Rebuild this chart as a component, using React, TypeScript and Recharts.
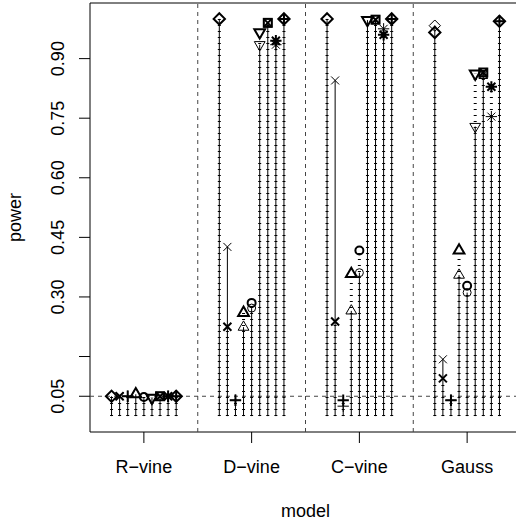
import React from 'react';
import {
  ComposedChart, XAxis, YAxis, Line, Scatter, ReferenceLine, ReferenceArea,
} from 'recharts';

// ---- data ----
const groups = ['R\u2212vine', 'D\u2212vine', 'C\u2212vine', 'Gauss'];
const groupPos = [1, 2, 3, 4];
const symbols = ['diamond', 'cross', 'plus', 'triangle', 'circle', 'triangleDown', 'squareX', 'asterisk', 'diamondPlus'];
const offsetStep = 0.075;

// thin (first) and bold (second) power values per symbol, per model
const thinDiamond = [0.05, 1.0, 1.0, 0.983];
const boldDiamond = [0.05, 1.0, 1.0, 0.966];
const thinCross = [0.05, 0.426, 0.845, 0.143];
const boldCross = [0.05, 0.225, 0.238, 0.095];
const thinPlus = [0.05, 0.04, 0.025, 0.04];
const boldPlus = [0.05, 0.04, 0.04, 0.04];
const thinTriangle = [0.055, 0.224, 0.265, 0.355];
const boldTriangle = [0.055, 0.26, 0.358, 0.417];
const thinCircle = [0.048, 0.272, 0.361, 0.311];
const boldCircle = [0.048, 0.285, 0.417, 0.328];
const thinTriDown = [0.046, 0.935, 0.997, 0.729];
const boldTriDown = [0.046, 0.966, 0.997, 0.862];
const thinSquare = [0.05, 0.99, 0.998, 0.86];
const boldSquare = [0.05, 0.99, 0.998, 0.865];
const thinAsterisk = [0.05, 0.935, 0.975, 0.754];
const boldAsterisk = [0.05, 0.945, 0.96, 0.829];
const thinDiamondPlus = [0.05, 1.0, 1.0, 0.994];
const boldDiamondPlus = [0.05, 1.0, 1.0, 0.994];

const thinValues = [thinDiamond, thinCross, thinPlus, thinTriangle, thinCircle, thinTriDown, thinSquare, thinAsterisk, thinDiamondPlus];
const boldValues = [boldDiamond, boldCross, boldPlus, boldTriangle, boldCircle, boldTriDown, boldSquare, boldAsterisk, boldDiamondPlus];

const yTicks = [0.05, 0.15, 0.3, 0.45, 0.6, 0.75, 0.9];
const yTickLabels = ['0.05', '', '0.30', '0.45', '0.60', '0.75', '0.90'];
const separators = [1.5, 2.5, 3.5];

const FONT = '"Liberation Sans", Arial, Helvetica, sans-serif';
const FS = 18;

// ---- helpers ----
const xOf = (gi: number, si: number) => groupPos[gi] + (si - 4) * offsetStep;

const stemData = (vals: number[], si: number) =>
  vals.flatMap((v, gi) => [
    { x: xOf(gi, si), y: 0 },
    { x: xOf(gi, si), y: v },
    { x: xOf(gi, si), y: null },
  ]);

const pointData = (vals: number[], si: number) =>
  vals.map((v, gi) => ({ x: xOf(gi, si), y: v }));

const RAD = 4;
function Marker({ cx, cy, kind, bold }: { cx: number; cy: number; kind: string; bold: boolean }) {
  if (cx == null || cy == null) return null;
  const sw = bold ? 2 : 1;
  const c = { fill: 'none', stroke: '#000', strokeWidth: sw };
  const d = RAD * Math.SQRT2;
  const r = RAD;
  const tr = 6.22, tx = 5.39, ty = 3.11;
  switch (kind) {
    case 'circle':
      return <circle cx={cx} cy={cy} r={r} {...c} />;
    case 'triangle':
      return <polygon points={`${cx},${cy - tr} ${cx + tx},${cy + ty} ${cx - tx},${cy + ty}`} {...c} />;
    case 'triangleDown':
      return <polygon points={`${cx},${cy + tr} ${cx + tx},${cy - ty} ${cx - tx},${cy - ty}`} {...c} />;
    case 'plus':
      return <path d={`M${cx - d},${cy}H${cx + d}M${cx},${cy - d}V${cy + d}`} {...c} />;
    case 'cross':
      return <path d={`M${cx - r},${cy - r}L${cx + r},${cy + r}M${cx - r},${cy + r}L${cx + r},${cy - r}`} {...c} />;
    case 'diamond':
      return <polygon points={`${cx},${cy - d} ${cx + d},${cy} ${cx},${cy + d} ${cx - d},${cy}`} {...c} />;
    case 'squareX':
      return (
        <g>
          <rect x={cx - r} y={cy - r} width={2 * r} height={2 * r} {...c} />
          <path d={`M${cx - r},${cy - r}L${cx + r},${cy + r}M${cx - r},${cy + r}L${cx + r},${cy - r}`} {...c} />
        </g>
      );
    case 'asterisk':
      return (
        <path
          d={`M${cx - r},${cy - r}L${cx + r},${cy + r}M${cx - r},${cy + r}L${cx + r},${cy - r}M${cx - d},${cy}H${cx + d}M${cx},${cy - d}V${cy + d}`}
          {...c}
        />
      );
    case 'diamondPlus':
      return (
        <g>
          <polygon points={`${cx},${cy - d} ${cx + d},${cy} ${cx},${cy + d} ${cx - d},${cy}`} {...c} />
          <path d={`M${cx - d},${cy}H${cx + d}M${cx},${cy - d}V${cy + d}`} {...c} />
        </g>
      );
    default:
      return null;
  }
}

const XTick = (props: any) => {
  const { x, payload } = props;
  const idx = groupPos.indexOf(payload.value);
  return (
    <text x={x} y={473} textAnchor="middle" fontFamily={FONT} fontSize={FS} fill="#000">
      {groups[idx]}
    </text>
  );
};

const YTick = (props: any) => {
  const { y, payload } = props;
  const idx = yTicks.indexOf(payload.value);
  const label = idx >= 0 ? yTickLabels[idx] : '';
  if (!label) return null;
  const bx = 64;
  return (
    <text x={bx} y={y} transform={`rotate(-90, ${bx}, ${y})`} textAnchor="middle" fontFamily={FONT} fontSize={FS} fill="#000">
      {label}
    </text>
  );
};

export default function App() {
  return (
    <div style={{ position: 'absolute', left: 0, top: 0, width: 516, height: 525, overflow: 'hidden', background: '#fff' }}>
      <ComposedChart width={531} height={525} margin={{ top: 3, right: 10, bottom: 0, left: 0 }}>
        <XAxis
          type="number"
          dataKey="x"
          domain={[0.5, 4.5]}
          ticks={groupPos}
          allowDataOverflow
          height={93}
          tickSize={11}
          axisLine={false}
          tickLine={{ stroke: '#000' }}
          tick={<XTick />}
          interval={0}
        />
        <YAxis
          type="number"
          dataKey="y"
          domain={[-0.04, 1.04]}
          ticks={yTicks}
          allowDataOverflow
          width={90}
          tickSize={11}
          axisLine={false}
          tickLine={{ stroke: '#000' }}
          tick={<YTick />}
          interval={0}
        />
        <ReferenceArea x1={0.5} x2={4.5} y1={-0.04} y2={1.04} fill="none" fillOpacity={0} stroke="#000" strokeWidth={1} />
        {separators.map((s) => (
          <ReferenceLine key={'sep' + s} x={s} stroke="#444" strokeDasharray="4 4" />
        ))}
        <ReferenceLine y={0.05} stroke="#444" strokeDasharray="4 4" />
        {symbols.map((k, si) => (
          <Line
            key={'ts' + k}
            data={stemData(thinValues[si], si)}
            dataKey="y"
            stroke="#000"
            strokeWidth={1}
            dot={false}
            activeDot={false}
            connectNulls={false}
            isAnimationActive={false}
          />
        ))}
        {symbols.map((k, si) => (
          <Line
            key={'bs' + k}
            data={stemData(boldValues[si], si)}
            dataKey="y"
            stroke="#000"
            strokeWidth={3}
            strokeDasharray="1 5"
            dot={false}
            activeDot={false}
            connectNulls={false}
            isAnimationActive={false}
          />
        ))}
        {symbols.map((k, si) => (
          <Scatter
            key={'tp' + k}
            data={pointData(thinValues[si], si)}
            isAnimationActive={false}
            shape={(p: any) => <Marker cx={p.cx} cy={p.cy} kind={k} bold={false} />}
          />
        ))}
        {symbols.map((k, si) => (
          <Scatter
            key={'bp' + k}
            data={pointData(boldValues[si], si)}
            isAnimationActive={false}
            shape={(p: any) => <Marker cx={p.cx} cy={p.cy} kind={k} bold={true} />}
          />
        ))}
      </ComposedChart>
      <svg width={516} height={525} style={{ position: 'absolute', left: 0, top: 0, pointerEvents: 'none' }}>
        <text x={21} y={217.5} transform="rotate(-90, 21, 217.5)" textAnchor="middle" fontFamily={FONT} fontSize={FS} fill="#000">
          power
        </text>
        <text x={305.5} y={517} textAnchor="middle" fontFamily={FONT} fontSize={FS} fill="#000">
          model
        </text>
      </svg>
    </div>
  );
}
